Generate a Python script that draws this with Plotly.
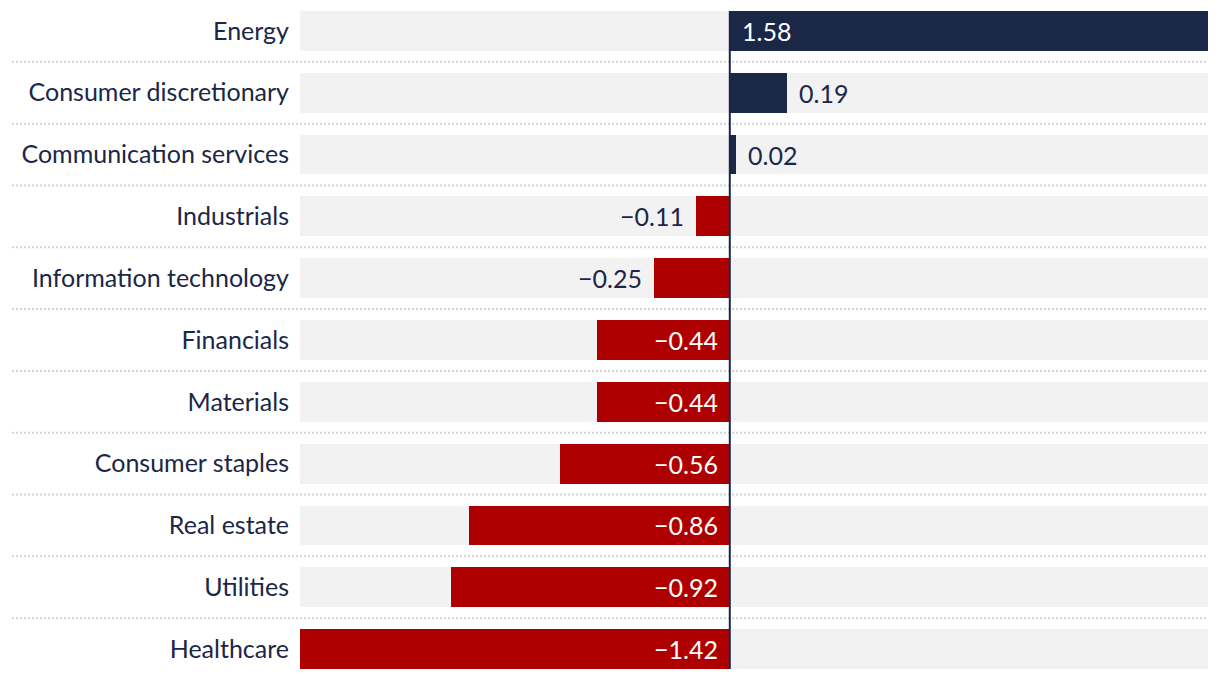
import plotly.graph_objects as go

categories = ["Energy", "Consumer discretionary", "Communication services", "Industrials",
              "Information technology", "Financials", "Materials", "Consumer staples",
              "Real estate", "Utilities", "Healthcare"]
values = [1.58, 0.19, 0.02, -0.11, -0.25, -0.44, -0.44, -0.56, -0.86, -0.92, -1.42]
label_inside = [True, False, False, False, False, True, True, True, True, True, True]

NAVY = "#1b2747"
RED = "#ae0000"
BG = "#f2f2f2"
FONT = "Lato"
FS = 25

xmin, xmax = min(values), max(values)
ypos = list(range(len(categories)))
texts = [f"{v:.2f}".replace("-", "\u2212") for v in values]
colors = [NAVY if v >= 0 else RED for v in values]

fig = go.Figure()
fig.add_trace(go.Bar(
    y=ypos, x=[xmax - xmin] * len(categories), base=xmin, orientation="h",
    marker=dict(color=BG, line=dict(width=0)), width=0.645, hoverinfo="skip", showlegend=False))
fig.add_trace(go.Bar(
    y=ypos, x=values, orientation="h",
    marker=dict(color=colors, line=dict(width=0)), width=0.645, showlegend=False))

annotations = []
for y, v, t, inside in zip(ypos, values, texts, label_inside):
    pos = v >= 0
    if inside:
        ax, color = 0, "white"
    else:
        ax, color = v, NAVY
    annotations.append(dict(
        x=ax, y=y, xref="x", yref="y", text=t, showarrow=False,
        xanchor="left" if pos else "right", yanchor="middle",
        xshift=10 if pos else -10, font=dict(family=FONT, size=FS, color=color)))

shapes = []
for i in range(len(categories) - 1):
    shapes.append(dict(type="line", xref="paper", yref="y", x0=-288 / 908, x1=1,
                       y0=i + 0.5, y1=i + 0.5, line=dict(color="#d4d4d4", width=2, dash="2px,2px"),
                       layer="below"))
shapes.append(dict(type="line", xref="x", yref="y", x0=0, x1=0, y0=-0.3225,
                   y1=len(categories) - 1 + 0.3225, line=dict(color=NAVY, width=2), layer="above"))

fig.update_layout(
    width=1220, height=680, margin=dict(l=300, r=12, t=0, b=0),
    paper_bgcolor="white", plot_bgcolor="white", barmode="overlay", bargap=0,
    font=dict(family=FONT, color=NAVY, size=FS),
    shapes=shapes, annotations=annotations,
    xaxis=dict(range=[xmin, xmax], visible=False, fixedrange=True),
    yaxis=dict(range=[len(categories) - 0.5, -0.5], tickmode="array", tickvals=ypos,
               ticktext=categories, showgrid=False, zeroline=False, showline=False,
               ticks="", ticklabelstandoff=10, tickfont=dict(size=FS, color=NAVY, family=FONT)),
)
fig.write_html("out.html")
